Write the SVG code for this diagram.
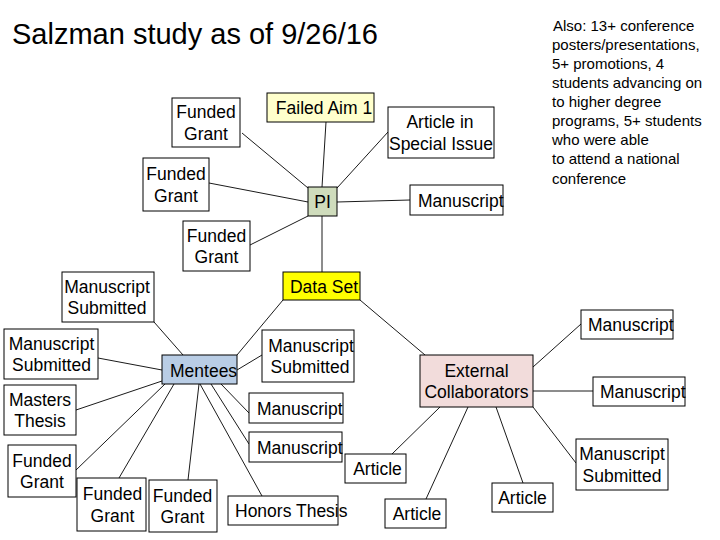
<svg xmlns="http://www.w3.org/2000/svg" width="720" height="540" viewBox="0 0 720 540">
<style>
.n rect{fill:#ffffff;stroke:#000000;stroke-width:1}
.n text,.t{font-family:"Liberation Sans",Arial,sans-serif;font-size:17.5px;fill:#000000}
.c{text-anchor:middle}
.s{text-anchor:start}
#connectors line{stroke:#000000;stroke-width:0.9}
</style>
<rect x="0" y="0" width="720" height="540" fill="#ffffff"/>
<text x="12" y="44" style="font-family:'Liberation Sans',Arial,sans-serif;font-size:29px" fill="#000000">Salzman study as of 9/26/16</text>
<text style="font-family:'Liberation Sans',Arial,sans-serif;font-size:15px" fill="#000000">
<tspan x="553" y="31">Also: 13+ conference</tspan>
<tspan x="552" y="50">posters/presentations,</tspan>
<tspan x="552" y="69">5+ promotions, 4</tspan>
<tspan x="552" y="88">students advancing on</tspan>
<tspan x="552" y="107">to higher degree</tspan>
<tspan x="552" y="126">programs, 5+ students</tspan>
<tspan x="552" y="145">who were able</tspan>
<tspan x="552" y="164">to attend a national</tspan>
<tspan x="552" y="184">conference</tspan>
</text>
<g id="connectors">
<line x1="242" y1="133" x2="308" y2="188"/>
<line x1="326" y1="122" x2="322" y2="187"/>
<line x1="388" y1="132" x2="337" y2="188"/>
<line x1="209" y1="183" x2="308" y2="202"/>
<line x1="337" y1="202" x2="410" y2="200"/>
<line x1="250" y1="245" x2="308" y2="216"/>
<line x1="322" y1="216" x2="322" y2="272"/>
<line x1="283" y1="300" x2="237" y2="355"/>
<line x1="360" y1="300" x2="425" y2="355"/>
<line x1="154" y1="322" x2="183" y2="355"/>
<line x1="98" y1="358" x2="162" y2="370"/>
<line x1="237" y1="370" x2="262" y2="355"/>
<line x1="76" y1="410" x2="162" y2="381"/>
<line x1="76" y1="470" x2="165" y2="384"/>
<line x1="119" y1="478" x2="174" y2="384"/>
<line x1="188" y1="480" x2="199" y2="384"/>
<line x1="262" y1="496" x2="200" y2="384"/>
<line x1="249" y1="444" x2="211" y2="384"/>
<line x1="249" y1="413" x2="221" y2="384"/>
<line x1="533" y1="367" x2="581" y2="324"/>
<line x1="533" y1="391" x2="593" y2="391"/>
<line x1="533" y1="407" x2="576" y2="463"/>
<line x1="496" y1="407" x2="523" y2="483"/>
<line x1="468" y1="407" x2="426" y2="499"/>
<line x1="440" y1="407" x2="392" y2="454"/>
</g>
<g id="fg1" class="n"><rect x="172" y="98" width="68" height="49"/><text class="c" x="206" y="118">Funded</text><text class="c" x="206" y="139.5">Grant</text></g>
<g id="failed" class="n"><rect x="267" y="93" width="107" height="29" style="fill:#ffffcc"/><text class="c" x="324" y="113.5">Failed Aim 1</text></g>
<g id="article_si" class="n"><rect x="388" y="107" width="106" height="51"/><text class="c" x="440" y="128">Article in</text><text class="c" x="441" y="149.5">Special Issue</text></g>
<g id="fg2" class="n"><rect x="143" y="158" width="66" height="53"/><text class="c" x="176" y="180">Funded</text><text class="c" x="176" y="201.5">Grant</text></g>
<g id="pi" class="n"><rect x="308" y="187" width="29" height="29" style="fill:#cfdcbc"/><text class="c" x="322.5" y="208">PI</text></g>
<g id="ms_pi" class="n"><rect x="410" y="185" width="93" height="30"/><text class="s" x="418" y="206.5">Manuscript</text></g>
<g id="fg3" class="n"><rect x="183" y="221" width="67" height="50"/><text class="c" x="216.5" y="241.5">Funded</text><text class="c" x="216.5" y="263">Grant</text></g>
<g id="dataset" class="n"><rect x="283" y="272" width="77" height="28" style="fill:#ffff00"/><text class="c" x="324" y="292.5">Data Set</text></g>
<g id="mss1" class="n"><rect x="62" y="272" width="92" height="50"/><text class="c" x="107" y="292.5">Manuscript</text><text class="c" x="107" y="314">Submitted</text></g>
<g id="mss2" class="n"><rect x="4" y="329" width="94" height="50"/><text class="c" x="51.5" y="349.5">Manuscript</text><text class="c" x="51.5" y="371">Submitted</text></g>
<g id="mentees" class="n"><rect x="162" y="355" width="75" height="29" style="fill:#b9cde5"/><text class="s" x="170" y="376.5">Mentees</text></g>
<g id="mss3" class="n"><rect x="262" y="330" width="92" height="52"/><text class="c" x="311" y="351.5">Manuscript</text><text class="c" x="310" y="373">Submitted</text></g>
<g id="masters" class="n"><rect x="4" y="385" width="72" height="50"/><text class="c" x="40" y="405.5">Masters</text><text class="c" x="40" y="427">Thesis</text></g>
<g id="fg4" class="n"><rect x="8" y="445" width="68" height="52"/><text class="c" x="42" y="466.5">Funded</text><text class="c" x="42" y="488">Grant</text></g>
<g id="fg5" class="n"><rect x="77" y="478" width="69" height="53"/><text class="c" x="112.5" y="500">Funded</text><text class="c" x="112.5" y="521.5">Grant</text></g>
<g id="fg6" class="n"><rect x="149" y="480" width="68" height="52"/><text class="c" x="182.5" y="501.5">Funded</text><text class="c" x="182.5" y="523">Grant</text></g>
<g id="honors" class="n"><rect x="228" y="496" width="110" height="29"/><text class="s" x="235" y="517">Honors Thesis</text></g>
<g id="ms1" class="n"><rect x="249" y="393" width="94" height="30"/><text class="s" x="257" y="414.5">Manuscript</text></g>
<g id="ms2" class="n"><rect x="249" y="432" width="93" height="30"/><text class="s" x="257" y="453.5">Manuscript</text></g>
<g id="ext" class="n"><rect x="420" y="355" width="113" height="52" style="fill:#f2dcdb"/><text class="c" x="476.5" y="376.5">External</text><text class="c" x="476.5" y="398">Collaborators</text></g>
<g id="ms_tr" class="n"><rect x="581" y="310" width="92" height="29"/><text class="s" x="588" y="331">Manuscript</text></g>
<g id="ms_r" class="n"><rect x="593" y="377" width="92" height="29"/><text class="s" x="600" y="398">Manuscript</text></g>
<g id="mss_r" class="n"><rect x="576" y="439" width="92" height="51"/><text class="c" x="622" y="460">Manuscript</text><text class="c" x="622" y="481.5">Submitted</text></g>
<g id="art_rb" class="n"><rect x="492" y="483" width="61" height="29"/><text class="c" x="522.5" y="504">Article</text></g>
<g id="art_b" class="n"><rect x="385" y="499" width="61" height="29"/><text class="c" x="417" y="520">Article</text></g>
<g id="art_l" class="n"><rect x="345" y="454" width="61" height="29"/><text class="c" x="377.5" y="475">Article</text></g>
</svg>
